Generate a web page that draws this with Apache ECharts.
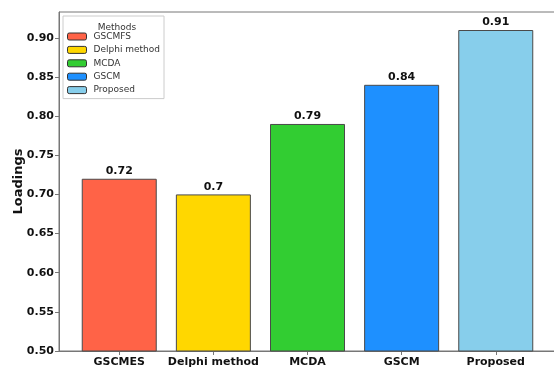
<!DOCTYPE html>
<html>
<head>
<meta charset="utf-8">
<script src="https://cdn.jsdelivr.net/npm/echarts@6/dist/echarts.min.js"></script>
<style>
  html, body { margin: 0; padding: 0; background: #fff; }
  #main { width: 554px; height: 369px; }
</style>
</head>
<body>
<div id="main"></div>
<script>
// 数据
var methods = ["GSCMES", "Delphi method", "MCDA", "GSCM", "Proposed"];
var legendNames = ["GSCMFS", "Delphi method", "MCDA", "GSCM", "Proposed"];
var loadings = [0.72, 0.70, 0.79, 0.84, 0.91];
var barColors = ["#FF6347", "#FFD700", "#32CD32", "#1E90FF", "#87CEEB"];
var yTicks = [0.50, 0.55, 0.60, 0.65, 0.70, 0.75, 0.80, 0.85, 0.90];

var myChart = echarts.init(document.getElementById("main"));
var font = "DejaVu Sans";

// 每个方法一个系列，这样图例可以显示各自的颜色
var series = methods.map(function (m, i) {
  return {
    name: legendNames[i],
    type: "bar",
    barWidth: 75,
    barGap: "-100%",
    data: [[i, loadings[i]]],
    itemStyle: { color: barColors[i], borderColor: "#4a4a4a", borderWidth: 1 },
    label: {
      show: true,
      position: "top",
      distance: 2,
      color: "#111",
      fontFamily: font,
      fontWeight: "bold",
      fontSize: 11,
      formatter: function (p) { return String(p.value[1]); },
    },
  };
});

var option = {
  animation: false,
  textStyle: { fontFamily: font },
  // 右侧边框在画面之外（原图被裁切）
  grid: {
    left: 59, top: 12, width: 497, bottom: 18,
    outerBoundsMode: "none",
    show: true, borderColor: "#777", borderWidth: 1,
  },
  title: {
    text: "Methods",
    left: 112,
    top: 18,
    textAlign: "center",
    textStyle: { fontFamily: font, fontSize: 9, fontWeight: "normal", color: "#333" },
  },
  legend: {
    orient: "vertical",
    left: 63,
    top: 16,
    padding: [16, 4, 4, 4],
    itemWidth: 19,
    itemHeight: 7,
    itemGap: 4.4,
    borderColor: "#ccc",
    borderWidth: 1,
    backgroundColor: "#fff",
    data: legendNames,
    textStyle: { fontFamily: font, fontSize: 9, color: "#333", padding: [0, 0, 0, 2] },
    itemStyle: { borderColor: "#333", borderWidth: 1 },
  },
  xAxis: {
    type: "value",
    min: -0.64,
    max: 4.64,
    splitLine: { show: false },
    axisLine: { show: true, onZero: false, lineStyle: { color: "#777" } },
    axisTick: { show: true, length: 4, customValues: [0, 1, 2, 3, 4], lineStyle: { color: "#777" } },
    axisLabel: {
      customValues: [0, 1, 2, 3, 4],
      margin: 6,
      color: "#111",
      fontFamily: font,
      fontWeight: "bold",
      fontSize: 11,
      formatter: function (v) { return methods[Math.round(v)]; },
    },
  },
  yAxis: {
    type: "value",
    min: 0.5,
    max: 0.933,
    name: "Loadings",
    nameLocation: "middle",
    nameGap: 34,
    nameMoveOverlap: false,
    nameTextStyle: { fontFamily: font, fontWeight: "bold", fontSize: 13, color: "#111" },
    splitLine: { show: false },
    axisLine: { show: true, onZero: false, lineStyle: { color: "#777" } },
    axisTick: { show: true, length: 4, customValues: yTicks, lineStyle: { color: "#777" } },
    axisLabel: {
      customValues: yTicks,
      margin: 5,
      color: "#111",
      fontFamily: font,
      fontWeight: "bold",
      fontSize: 11,
      formatter: function (v) { return v.toFixed(2); },
    },
  },
  series: series,
};

myChart.setOption(option);
</script>
</body>
</html>
